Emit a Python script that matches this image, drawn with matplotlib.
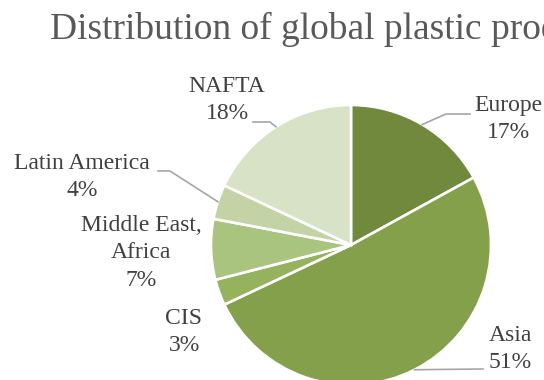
import numpy as np
from matplotlib import pyplot as plt

regions = ["Europe", "Asia", "CIS", "Middle East,\nAfrica", "Latin America", "NAFTA"]
shares = [17, 51, 3, 7, 4, 18]
colors = ["#70893d", "#85a04b", "#95b25d", "#a9c47f", "#c3d3a5", "#d7e2c6"]

# label layout in pixels (center of text block), leader elbow/end points
W, H = 544, 380
cx, cy, R = 351, 245, 140
label_pos = [(508, 119), (510, 349), (184, 332), (141, 253), (82, 177), (227, 100)]
leaders = [[(446, 114), (470, 114)], [(483, 369)], None, None,
           [(170, 171), (158, 171)], [(270, 122), (253, 122)]]

plt.rcParams["font.family"] = ["Liberation Serif", "DejaVu Serif"]

fig = plt.figure(figsize=(W / 100, H / 100), dpi=100)
ax = fig.add_axes([(cx - R) / W, (H - cy - R) / H, 2 * R / W, 2 * R / H])

wedges, _ = ax.pie(shares, colors=colors, startangle=90, counterclock=False,
                   radius=1, wedgeprops=dict(edgecolor="white", linewidth=1.9))
ax.set_xlim(-1, 1)
ax.set_ylim(-1, 1)
ax.axis("off")


def to_data(px, py):
    return (px - cx) / R, (cy - py) / R


for w, name, val, pos, lead in zip(wedges, regions, shares, label_pos, leaders):
    tx, ty = to_data(*pos)
    ax.text(tx, ty, "%s\n%d%%" % (name, val), ha="center", va="center",
            fontsize=17, color="#404040", linespacing=1.38, clip_on=False)
    if lead:
        mid = np.deg2rad((w.theta1 + w.theta2) / 2)
        pts = [(np.cos(mid), np.sin(mid))] + [to_data(*p) for p in lead]
        xs, ys = zip(*pts)
        ax.plot(xs, ys, color="#a6a6a6", lw=1.2, clip_on=False)

fig.text(50 / W, 1 - 39 / H, "Distribution of global plastic production",
         ha="left", va="baseline", fontsize=27, color="#595959")

fig.savefig("out.png", dpi=100)
